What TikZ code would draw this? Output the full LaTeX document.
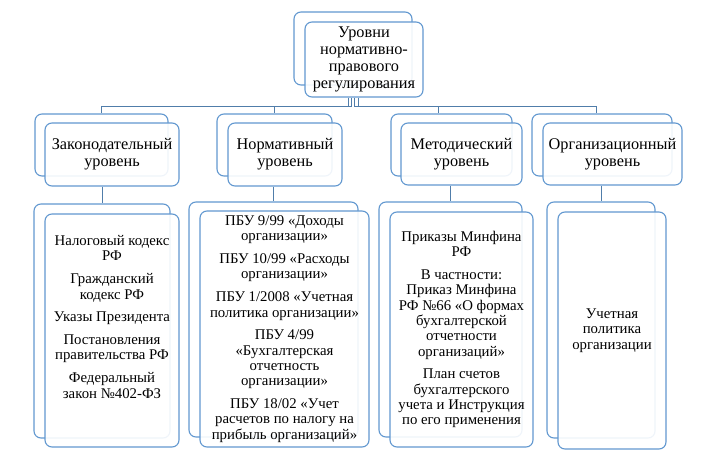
\documentclass[tikz,border=0pt]{standalone}
\usepackage{fontspec}
\setmainfont{Liberation Serif}
\definecolor{boxblue}{RGB}{98,152,208}
\definecolor{lineblue}{RGB}{80,125,170}
\tikzset{
  boxback/.style={draw=boxblue, line width=1.1pt, rounded corners=7pt, fill=white, inner sep=0pt},
  boxfront/.style={boxback, fill opacity=0.9, text opacity=1, align=center},
  headtext/.style={font=\fontsize{16.3}{17}\selectfont},
  bodytext/.style={font=\fontsize{14.8}{15.3}\selectfont},
  conn/.style={draw=lineblue, line width=1pt},
}
\newcommand{\gap}{\\[7.5pt]}

\begin{document}
\begin{tikzpicture}[x=1pt,y=-1pt]
\useasboundingbox (0,0) rectangle (716,473);

% top level
\node[boxback, minimum width=118pt, minimum height=73pt] (topb) at (353,48.5) {};
\node[boxfront, headtext, minimum width=118pt, minimum height=75pt] (top) at (364,59.5) {Уровни\\нормативно-\\правового\\регулирования};

% headers
\node[boxback, minimum width=133pt, minimum height=62pt] (h1b) at (101.5,145) {};
\node[boxfront, headtext, minimum width=134pt, minimum height=63pt] (h1) at (112,154.5) {Законодательный\\уровень};
\node[boxback, minimum width=115pt, minimum height=62pt] (h2b) at (274.5,145) {};
\node[boxfront, headtext, minimum width=114pt, minimum height=63pt] (h2) at (285,154.5) {Нормативный\\уровень};
\node[boxback, minimum width=121pt, minimum height=62pt] (h3b) at (451.5,145) {};
\node[boxfront, headtext, minimum width=121pt, minimum height=62pt] (h3) at (461.5,154) {Методический\\уровень};
\node[boxback, minimum width=140pt, minimum height=62pt] (h4b) at (602,145) {};
\node[boxfront, headtext, minimum width=139pt, minimum height=62pt] (h4) at (612.5,154) {Организационный\\уровень};

% bodies
\node[boxback, minimum width=136pt, minimum height=234pt] (b1b) at (102,321) {};
\node[boxfront, bodytext, minimum width=134pt, minimum height=233pt] (b1) at (112,330.5) {Налоговый кодекс\\РФ\gap
  Гражданский\\кодекс РФ\gap
  Указы Президента\gap
  Постановления\\правительства РФ\gap
  Федеральный\\закон №402-ФЗ\gap\strut};
\node[boxback, minimum width=169pt, minimum height=235pt] (b2b) at (273.5,319.5) {};
\node[boxfront, bodytext, minimum width=169pt, minimum height=236pt] (b2) at (284.5,329) {ПБУ 9/99 «Доходы\\организации»\gap
  ПБУ 10/99 «Расходы\\организации»\gap
  ПБУ 1/2008 «Учетная\\политика организации»\gap
  ПБУ 4/99\\«Бухгалтерская\\отчетность\\организации»\gap
  ПБУ 18/02 «Учет\\расчетов по налогу на\\прибыль организаций»};
\node[boxback, minimum width=143pt, minimum height=235pt] (b3b) at (450.5,319.5) {};
\node[boxfront, bodytext, minimum width=143pt, minimum height=235pt] (b3) at (461.5,329.5) {Приказы Минфина\\РФ\gap
  В частности:\\Приказ Минфина\\РФ №66 «О формах\\бухгалтерской\\отчетности\\организаций»\gap
  План счетов\\бухгалтерского\\учета и Инструкция\\по его применения};
\node[boxback, minimum width=108pt, minimum height=236pt] (b4b) at (601,320) {};
\node[boxfront, bodytext, minimum width=108pt, minimum height=237pt] (b4) at (612,330.5) {Учетная\\политика\\организации};

% connectors
\draw[conn] ([xshift=-16pt]top.south) -- ++(0,9) -| (h1b.north);
\draw[conn] ([xshift=-13pt]top.south) -- ++(0,9) -| (h2b.north);
\draw[conn] ([xshift=-10pt]top.south) -- ++(0,9) -| ([xshift=-13.5pt]h3b.north);
\draw[conn] ([xshift=-6pt]top.south) -- ++(0,9) -| ([xshift=-6pt]h4b.north);
\draw[conn] (h1.south -| b1b.north) -- (b1b.north);
\draw[conn] (h2.south -| b2b.north) -- (b2b.north);
\draw[conn] (h3.south -| b3b.north) -- (b3b.north);
\draw[conn] (h4.south -| b4b.north) -- (b4b.north);
\end{tikzpicture}
\end{document}
